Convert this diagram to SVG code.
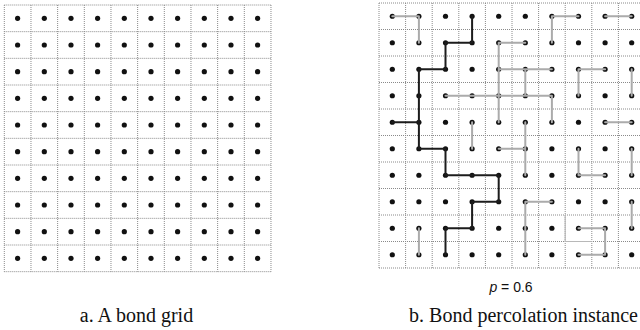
<svg xmlns="http://www.w3.org/2000/svg" xmlns:xlink="http://www.w3.org/1999/xlink" width="640" height="330" viewBox="0 0 640 330">
<style>
.grid{fill:none;stroke:#8a8a8a;stroke-width:1;stroke-dasharray:1 1}
.cellfix{fill:none;stroke:#b8b8b8;stroke-width:1.2}
.dot{fill:#111}
.open{fill:none;stroke:#ababab;stroke-width:2;stroke-linecap:round;stroke-linejoin:round}
.path{fill:none;stroke:#1c1c1c;stroke-width:2;stroke-linecap:round;stroke-linejoin:round}
.cap{font-family:"Liberation Serif","Times New Roman",serif;font-size:20px;fill:#111}
.lbl{font-family:"Liberation Sans",Arial,sans-serif;font-size:14px;fill:#111}
</style>
<defs>
<circle id="dot" class="dot" r="2.6"/>
</defs>
<rect width="640" height="330" fill="#fff"/>

<g id="grid-a">
<path class="grid" d="M4.3 5H271M4.3 31.67H271M4.3 58.33H271M4.3 85H271M4.3 111.67H271M4.3 138.33H271M4.3 165H271M4.3 191.67H271M4.3 218.33H271M4.3 245H271M4.3 271.67H271
M4.3 5V271.67M30.97 5V271.67M57.63 5V271.67M84.3 5V271.67M110.97 5V271.67M137.63 5V271.67M164.3 5V271.67M190.97 5V271.67M217.63 5V271.67M244.3 5V271.67M270.97 5V271.67"/>
</g>

<g id="grid-b">
<path class="grid" d="M379 3H645M379 29.5H645M379 56H645M379 82.5H645M379 109H645M379 135.5H645M379 162H645M379 188.5H645M379 215H645M379 241.5H645M379 268H645
M379 3V268M405.6 3V268M432.2 3V268M458.8 3V268M485.4 3V268M512 3V268M538.6 3V268M565.2 3V268M591.8 3V268M618.4 3V268"/>
<path class="cellfix" d="M565.2 215V241.5H591.8"/>
</g>

<g id="nodes-a">
<g id="a-row0"><use href="#dot" x="17.6" y="18.3"/><use href="#dot" x="44.3" y="18.3"/><use href="#dot" x="71" y="18.3"/><use href="#dot" x="97.6" y="18.3"/><use href="#dot" x="124.3" y="18.3"/><use href="#dot" x="151" y="18.3"/><use href="#dot" x="177.6" y="18.3"/><use href="#dot" x="204.3" y="18.3"/><use href="#dot" x="231" y="18.3"/><use href="#dot" x="257.6" y="18.3"/></g>
<g id="a-row1"><use href="#dot" x="17.6" y="45"/><use href="#dot" x="44.3" y="45"/><use href="#dot" x="71" y="45"/><use href="#dot" x="97.6" y="45"/><use href="#dot" x="124.3" y="45"/><use href="#dot" x="151" y="45"/><use href="#dot" x="177.6" y="45"/><use href="#dot" x="204.3" y="45"/><use href="#dot" x="231" y="45"/><use href="#dot" x="257.6" y="45"/></g>
<g id="a-row2"><use href="#dot" x="17.6" y="71.7"/><use href="#dot" x="44.3" y="71.7"/><use href="#dot" x="71" y="71.7"/><use href="#dot" x="97.6" y="71.7"/><use href="#dot" x="124.3" y="71.7"/><use href="#dot" x="151" y="71.7"/><use href="#dot" x="177.6" y="71.7"/><use href="#dot" x="204.3" y="71.7"/><use href="#dot" x="231" y="71.7"/><use href="#dot" x="257.6" y="71.7"/></g>
<g id="a-row3"><use href="#dot" x="17.6" y="98.3"/><use href="#dot" x="44.3" y="98.3"/><use href="#dot" x="71" y="98.3"/><use href="#dot" x="97.6" y="98.3"/><use href="#dot" x="124.3" y="98.3"/><use href="#dot" x="151" y="98.3"/><use href="#dot" x="177.6" y="98.3"/><use href="#dot" x="204.3" y="98.3"/><use href="#dot" x="231" y="98.3"/><use href="#dot" x="257.6" y="98.3"/></g>
<g id="a-row4"><use href="#dot" x="17.6" y="125"/><use href="#dot" x="44.3" y="125"/><use href="#dot" x="71" y="125"/><use href="#dot" x="97.6" y="125"/><use href="#dot" x="124.3" y="125"/><use href="#dot" x="151" y="125"/><use href="#dot" x="177.6" y="125"/><use href="#dot" x="204.3" y="125"/><use href="#dot" x="231" y="125"/><use href="#dot" x="257.6" y="125"/></g>
<g id="a-row5"><use href="#dot" x="17.6" y="151.7"/><use href="#dot" x="44.3" y="151.7"/><use href="#dot" x="71" y="151.7"/><use href="#dot" x="97.6" y="151.7"/><use href="#dot" x="124.3" y="151.7"/><use href="#dot" x="151" y="151.7"/><use href="#dot" x="177.6" y="151.7"/><use href="#dot" x="204.3" y="151.7"/><use href="#dot" x="231" y="151.7"/><use href="#dot" x="257.6" y="151.7"/></g>
<g id="a-row6"><use href="#dot" x="17.6" y="178.3"/><use href="#dot" x="44.3" y="178.3"/><use href="#dot" x="71" y="178.3"/><use href="#dot" x="97.6" y="178.3"/><use href="#dot" x="124.3" y="178.3"/><use href="#dot" x="151" y="178.3"/><use href="#dot" x="177.6" y="178.3"/><use href="#dot" x="204.3" y="178.3"/><use href="#dot" x="231" y="178.3"/><use href="#dot" x="257.6" y="178.3"/></g>
<g id="a-row7"><use href="#dot" x="17.6" y="205"/><use href="#dot" x="44.3" y="205"/><use href="#dot" x="71" y="205"/><use href="#dot" x="97.6" y="205"/><use href="#dot" x="124.3" y="205"/><use href="#dot" x="151" y="205"/><use href="#dot" x="177.6" y="205"/><use href="#dot" x="204.3" y="205"/><use href="#dot" x="231" y="205"/><use href="#dot" x="257.6" y="205"/></g>
<g id="a-row8"><use href="#dot" x="17.6" y="231.7"/><use href="#dot" x="44.3" y="231.7"/><use href="#dot" x="71" y="231.7"/><use href="#dot" x="97.6" y="231.7"/><use href="#dot" x="124.3" y="231.7"/><use href="#dot" x="151" y="231.7"/><use href="#dot" x="177.6" y="231.7"/><use href="#dot" x="204.3" y="231.7"/><use href="#dot" x="231" y="231.7"/><use href="#dot" x="257.6" y="231.7"/></g>
<g id="a-row9"><use href="#dot" x="17.6" y="258.3"/><use href="#dot" x="44.3" y="258.3"/><use href="#dot" x="71" y="258.3"/><use href="#dot" x="97.6" y="258.3"/><use href="#dot" x="124.3" y="258.3"/><use href="#dot" x="151" y="258.3"/><use href="#dot" x="177.6" y="258.3"/><use href="#dot" x="204.3" y="258.3"/><use href="#dot" x="231" y="258.3"/><use href="#dot" x="257.6" y="258.3"/></g>
</g>

<g id="nodes-b">
<g id="b-row0"><use href="#dot" x="392.3" y="16.25"/><use href="#dot" x="418.9" y="16.25"/><use href="#dot" x="445.5" y="16.25"/><use href="#dot" x="472.1" y="16.25"/><use href="#dot" x="498.7" y="16.25"/><use href="#dot" x="525.3" y="16.25"/><use href="#dot" x="551.9" y="16.25"/><use href="#dot" x="578.5" y="16.25"/><use href="#dot" x="605.1" y="16.25"/><use href="#dot" x="631.7" y="16.25"/></g>
<g id="b-row1"><use href="#dot" x="392.3" y="42.75"/><use href="#dot" x="418.9" y="42.75"/><use href="#dot" x="445.5" y="42.75"/><use href="#dot" x="472.1" y="42.75"/><use href="#dot" x="498.7" y="42.75"/><use href="#dot" x="525.3" y="42.75"/><use href="#dot" x="551.9" y="42.75"/><use href="#dot" x="578.5" y="42.75"/><use href="#dot" x="605.1" y="42.75"/><use href="#dot" x="631.7" y="42.75"/></g>
<g id="b-row2"><use href="#dot" x="392.3" y="69.25"/><use href="#dot" x="418.9" y="69.25"/><use href="#dot" x="445.5" y="69.25"/><use href="#dot" x="472.1" y="69.25"/><use href="#dot" x="498.7" y="69.25"/><use href="#dot" x="525.3" y="69.25"/><use href="#dot" x="551.9" y="69.25"/><use href="#dot" x="578.5" y="69.25"/><use href="#dot" x="605.1" y="69.25"/><use href="#dot" x="631.7" y="69.25"/></g>
<g id="b-row3"><use href="#dot" x="392.3" y="95.75"/><use href="#dot" x="418.9" y="95.75"/><use href="#dot" x="445.5" y="95.75"/><use href="#dot" x="472.1" y="95.75"/><use href="#dot" x="498.7" y="95.75"/><use href="#dot" x="525.3" y="95.75"/><use href="#dot" x="551.9" y="95.75"/><use href="#dot" x="578.5" y="95.75"/><use href="#dot" x="605.1" y="95.75"/><use href="#dot" x="631.7" y="95.75"/></g>
<g id="b-row4"><use href="#dot" x="392.3" y="122.25"/><use href="#dot" x="418.9" y="122.25"/><use href="#dot" x="445.5" y="122.25"/><use href="#dot" x="472.1" y="122.25"/><use href="#dot" x="498.7" y="122.25"/><use href="#dot" x="525.3" y="122.25"/><use href="#dot" x="551.9" y="122.25"/><use href="#dot" x="578.5" y="122.25"/><use href="#dot" x="605.1" y="122.25"/><use href="#dot" x="631.7" y="122.25"/></g>
<g id="b-row5"><use href="#dot" x="392.3" y="148.75"/><use href="#dot" x="418.9" y="148.75"/><use href="#dot" x="445.5" y="148.75"/><use href="#dot" x="472.1" y="148.75"/><use href="#dot" x="498.7" y="148.75"/><use href="#dot" x="525.3" y="148.75"/><use href="#dot" x="551.9" y="148.75"/><use href="#dot" x="578.5" y="148.75"/><use href="#dot" x="605.1" y="148.75"/><use href="#dot" x="631.7" y="148.75"/></g>
<g id="b-row6"><use href="#dot" x="392.3" y="175.25"/><use href="#dot" x="418.9" y="175.25"/><use href="#dot" x="445.5" y="175.25"/><use href="#dot" x="472.1" y="175.25"/><use href="#dot" x="498.7" y="175.25"/><use href="#dot" x="525.3" y="175.25"/><use href="#dot" x="551.9" y="175.25"/><use href="#dot" x="578.5" y="175.25"/><use href="#dot" x="605.1" y="175.25"/><use href="#dot" x="631.7" y="175.25"/></g>
<g id="b-row7"><use href="#dot" x="392.3" y="201.75"/><use href="#dot" x="418.9" y="201.75"/><use href="#dot" x="445.5" y="201.75"/><use href="#dot" x="472.1" y="201.75"/><use href="#dot" x="498.7" y="201.75"/><use href="#dot" x="525.3" y="201.75"/><use href="#dot" x="551.9" y="201.75"/><use href="#dot" x="578.5" y="201.75"/><use href="#dot" x="605.1" y="201.75"/><use href="#dot" x="631.7" y="201.75"/></g>
<g id="b-row8"><use href="#dot" x="392.3" y="228.25"/><use href="#dot" x="418.9" y="228.25"/><use href="#dot" x="445.5" y="228.25"/><use href="#dot" x="472.1" y="228.25"/><use href="#dot" x="498.7" y="228.25"/><use href="#dot" x="525.3" y="228.25"/><use href="#dot" x="551.9" y="228.25"/><use href="#dot" x="578.5" y="228.25"/><use href="#dot" x="605.1" y="228.25"/><use href="#dot" x="631.7" y="228.25"/></g>
<g id="b-row9"><use href="#dot" x="392.3" y="254.75"/><use href="#dot" x="418.9" y="254.75"/><use href="#dot" x="445.5" y="254.75"/><use href="#dot" x="472.1" y="254.75"/><use href="#dot" x="498.7" y="254.75"/><use href="#dot" x="525.3" y="254.75"/><use href="#dot" x="551.9" y="254.75"/><use href="#dot" x="578.5" y="254.75"/><use href="#dot" x="605.1" y="254.75"/><use href="#dot" x="631.7" y="254.75"/></g>
</g>

<g id="connectors">
<path class="open" d="M392.3 16.25H418.9V42.75
M551.9 42.75V16.25H578.5
M605.1 16.25H631.7
M525.3 42.75H498.7V122.25
M498.7 69.25H551.9
M525.3 69.25V95.75
M605.1 69.25H578.5V95.75
M631.7 69.25V95.75
M445.5 95.75H551.9V122.25
M472.1 122.25V148.75
M525.3 122.25V175.25
M498.7 148.75H525.3
M605.1 122.25H631.7
M578.5 148.75V175.25H605.1
M631.7 148.75V175.25
M551.9 201.75H525.3V254.75
M631.7 201.75V228.25
M418.9 228.25V254.75
M578.5 228.25H605.1V254.75H578.5"/>
<path class="path" d="M472.1 16.25V42.75H445.5V69.25H418.9V148.75H445.5V175.25H498.7V201.75H472.1V228.25H445.5V254.75
M392.3 122.25H418.9"/>
</g>

<text class="lbl" x="511" y="292" text-anchor="middle"><tspan font-style="italic">p</tspan> = 0.6</text>
<text class="cap" x="136.5" y="322" text-anchor="middle">a. A bond grid</text>
<text class="cap" x="523.5" y="322" text-anchor="middle">b. Bond percolation instance</text>
</svg>
